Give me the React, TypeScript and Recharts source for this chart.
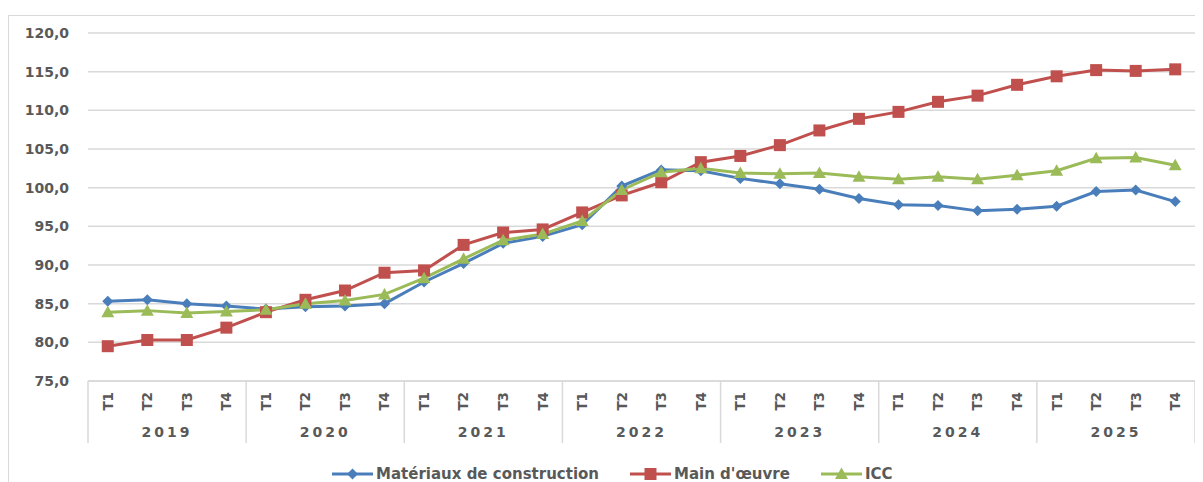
import { LineChart, Line, XAxis, YAxis, CartesianGrid, Legend } from "recharts";

const quarters = [
  "T1", "T2", "T3", "T4", "T1", "T2", "T3", "T4", "T1", "T2", "T3", "T4", "T1", "T2",
  "T3", "T4", "T1", "T2", "T3", "T4", "T1", "T2", "T3", "T4", "T1", "T2", "T3", "T4",
];
const years = ["2019", "2020", "2021", "2022", "2023", "2024", "2025"];

const materiaux = [
  85.3, 85.5, 85.0, 84.7, 84.3, 84.6, 84.7, 85.0, 87.8, 90.2, 92.8, 93.7, 95.2, 100.2,
  102.3, 102.2, 101.2, 100.5, 99.8, 98.6, 97.8, 97.7, 97.0, 97.2, 97.6, 99.5, 99.7, 98.2,
];
const mainOeuvre = [
  79.5, 80.3, 80.3, 81.9, 83.9, 85.5, 86.7, 89.0, 89.3, 92.6, 94.2, 94.6, 96.8, 99.0,
  100.7, 103.3, 104.1, 105.5, 107.4, 108.9, 109.8, 111.1, 111.9, 113.3, 114.4, 115.2, 115.1, 115.3,
];
const icc = [
  83.9, 84.1, 83.8, 84.0, 84.2, 85.0, 85.4, 86.2, 88.3, 90.8, 93.2, 94.0, 95.7, 99.7,
  102.0, 102.5, 101.9, 101.8, 101.9, 101.4, 101.1, 101.4, 101.1, 101.6, 102.2, 103.8, 103.9, 102.9,
];
const yTicks = [75, 80, 85, 90, 95, 100, 105, 110, 115, 120];

const data = quarters.map((q, i) => ({
  q,
  mat: materiaux[i],
  mo: mainOeuvre[i],
  icc: icc[i],
}));

const BLUE = "#4a7ebb";
const RED = "#c0504d";
const GREEN = "#9bbb59";
const GRID = "#d9d9d9";
const TXT = "#595959";
const FONT = "DejaVu Sans";

const W = 1195;
const H = 467;
const LEFT = 79;
const RIGHT = 9;
const BAND = (W - LEFT - RIGHT) / quarters.length;

function marker(kind: string, cx: number, cy: number, color: string) {
  if (kind === "diamond")
    return <path d={`M${cx},${cy - 5.5}L${cx + 5.5},${cy}L${cx},${cy + 5.5}L${cx - 5.5},${cy}Z`} fill={color} />;
  if (kind === "square")
    return <rect x={cx - 6} y={cy - 6} width={12} height={12} fill={color} />;
  return <path d={`M${cx},${cy - 6.5}L${cx + 6.5},${cy + 5}L${cx - 6.5},${cy + 5}Z`} fill={color} />;
}

const makeDot = (kind: string, color: string) => (props: any) => {
  const { cx, cy, index } = props;
  if (cx == null || cy == null) return <g key={index} />;
  return <g key={index}>{marker(kind, cx, cy, color)}</g>;
};

function QuarterTick(props: any) {
  const { x, y, payload } = props;
  const i = payload.index;
  return (
    <g>
      <text
        transform={`translate(${x},${y + 11}) rotate(-90)`}
        dy="0.36em"
        textAnchor="end"
        fill={TXT}
        fontFamily={FONT}
        fontWeight="bold"
        fontSize={13.5}
      >
        {payload.value}
      </text>
      {i % 4 === 0 && <line x1={x - BAND / 2} x2={x - BAND / 2} y1={y} y2={y + 62} stroke={GRID} strokeWidth={1.5} />}
      {i === quarters.length - 1 && (
        <line x1={x + BAND / 2} x2={x + BAND / 2} y1={y} y2={y + 62} stroke={GRID} strokeWidth={1.5} />
      )}
      {i % 4 === 1 && (
        <text
          x={x + BAND / 2}
          y={y + 56}
          textAnchor="middle"
          fill={TXT}
          fontFamily={FONT}
          fontWeight="bold"
          fontSize={14}
          letterSpacing={3}
        >
          {years[Math.floor(i / 4)]}
        </text>
      )}
    </g>
  );
}

const legendItems = [
  { name: "Matériaux de construction", color: BLUE, kind: "diamond" },
  { name: "Main d'œuvre", color: RED, kind: "square" },
  { name: "ICC", color: GREEN, kind: "triangle" },
];

function LegendContent() {
  return (
    <div
      style={{
        display: "flex",
        paddingLeft: 323,
        gap: 31,
        fontFamily: FONT,
        fontSize: 15,
        color: TXT,
        fontWeight: "bold",
        lineHeight: "18px",
      }}
    >
      {legendItems.map((it) => (
        <div key={it.name} style={{ display: "flex", alignItems: "center" }}>
          <svg width={41} height={14}>
            <line x1={0} x2={41} y1={7} y2={7} stroke={it.color} strokeWidth={3} />
            {marker(it.kind, 20.5, 7, it.color)}
          </svg>
          <span style={{ marginLeft: 3 }}>{it.name}</span>
        </div>
      ))}
    </div>
  );
}

export default function App() {
  return (
    <div style={{ marginTop: 7, width: W + 20, height: H, borderLeft: `1px solid ${GRID}`, borderTop: `1px solid ${GRID}` }}>
      <LineChart width={W} height={H} data={data} margin={{ top: 17, right: RIGHT, left: 0, bottom: 32 }}>
        <CartesianGrid vertical={false} stroke={GRID} strokeWidth={1.5} />
        <XAxis
          dataKey="q"
          interval={0}
          height={70}
          tickSize={0}
          tickMargin={0}
          padding={{ left: BAND / 2, right: BAND / 2 }}
          stroke={GRID}
          strokeWidth={1.5}
          tick={<QuarterTick />}
        />
        <YAxis
          domain={[75, 120]}
          ticks={yTicks}
          width={LEFT}
          axisLine={false}
          tickLine={false}
          tickSize={0}
          tickMargin={19}
          tickFormatter={(v: number) => v.toFixed(1).replace(".", ",")}
          tick={{ fill: TXT, fontFamily: FONT, fontWeight: "bold", fontSize: 14 }}
        />
        <Legend
          verticalAlign="middle"
          layout="horizontal"
          wrapperStyle={{ top: 449, left: 0, width: W }}
          content={<LegendContent />}
        />
        <Line dataKey="mat" name="Matériaux de construction" stroke={BLUE} strokeWidth={3} dot={makeDot("diamond", BLUE)} isAnimationActive={false} />
        <Line dataKey="mo" name="Main d'œuvre" stroke={RED} strokeWidth={3} dot={makeDot("square", RED)} isAnimationActive={false} />
        <Line dataKey="icc" name="ICC" stroke={GREEN} strokeWidth={3} dot={makeDot("triangle", GREEN)} isAnimationActive={false} />
      </LineChart>
    </div>
  );
}
